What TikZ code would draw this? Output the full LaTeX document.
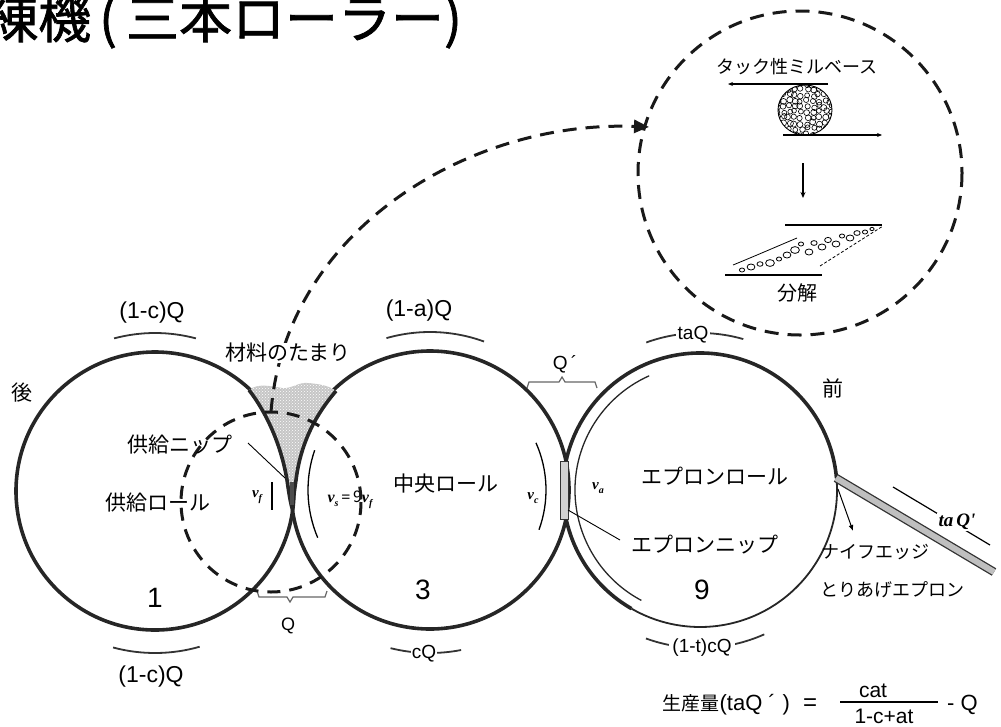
\documentclass[tikz,border=0pt]{standalone}
\usepackage{fontspec}
\setmainfont{Noto Sans CJK JP}
\newfontfamily\lat{Liberation Sans}
\newfontfamily\serif{Liberation Serif}
\newfontfamily\titlefont[FakeBold=1.3]{Noto Sans CJK JP}
\newcommand\velo[1]{{\serif\bfseries\itshape v}\raisebox{-0.22em}{\fontsize{10}{10}\selectfont\serif\bfseries\itshape #1}}
\usetikzlibrary{arrows.meta,patterns}
\begin{document}
\begin{tikzpicture}[x=1pt,y=-1pt,
  roll/.style={line width=3.6pt,draw=black!85},
  flowarc/.style={line width=1.8pt,draw=black!80},
  bracketline/.style={line width=1.2pt,draw=black!60},
  jp/.style={font=\fontsize{21}{21}\selectfont,inner sep=1pt},
  jps/.style={font=\fontsize{18}{18}\selectfont,inner sep=1pt},
  qlab/.style={font=\lat\fontsize{23}{23}\selectfont,inner sep=1pt},
  qsmall/.style={font=\lat\fontsize{19}{19}\selectfont,inner sep=1pt},
  vlab/.style={font=\fontsize{15}{15}\selectfont,inner sep=0.5pt},
  rollno/.style={font=\lat\fontsize{28}{28}\selectfont,inner sep=0pt},
  bigdash/.style={line width=3pt,dash pattern=on 14pt off 9pt,draw=black!90},
]
\useasboundingbox (0,0) rectangle (1001,726);
\clip (0,0) rectangle (1001,726);

% roll centres
\coordinate (R1) at (155,491);
\coordinate (R3) at (430,490);
\coordinate (R9) at (700,490);

% title
\node[anchor=base west,inner sep=0,font=\titlefont\fontsize{53}{53}\selectfont] (title) at (-15,38)
  {練機\hspace{8pt}(\hspace{9pt}三本ローラー)};

% rolls
\draw[roll] (R1) circle[radius=139];
\draw[roll] (R3) circle[radius=139];
\draw[roll] ([shift={(120:137)}]R9) arc[start angle=120,end angle=355,radius=137];
\draw[line width=1.8pt,draw=black!85] ([shift={(-5:137)}]R9) arc[start angle=-5,end angle=120,radius=137];

% pool of material drawn into the feed nip
\fill[gray!45,postaction={pattern=crosshatch dots,pattern color=white}]
  (249,390) .. controls (258,383) and (270,386) .. (282,388)
  .. controls (292,389) and (298,382) .. (308,383)
  .. controls (320,384) and (330,386) .. (336,391)
  .. controls (318,412) and (301,440) .. (296,480)
  .. controls (294,494) and (293,500) .. (292,508)
  .. controls (290,500) and (289,494) .. (287,480)
  .. controls (281,444) and (266,412) .. (249,390) -- cycle;
\draw[roll] (336,391) .. controls (318,412) and (301,440) .. (296,480)
  .. controls (294,494) and (293,500) .. (292,508);
\draw[roll] (249,390) .. controls (266,412) and (281,444) .. (287,480)
  .. controls (289,494) and (290,500) .. (292,508);
\fill[black!70] (289.5,482) rectangle (293.5,505);

% apron layer on the apron roll
\draw[line width=1.3pt,draw=black!85] ([shift={(118:125)}]R9) arc[start angle=118,end angle=246,radius=125];

% apron nip
\node[draw=black!80,line width=0.8pt,fill=gray!35,minimum width=8pt,minimum height=58pt,inner sep=0] (anip) at (564,490) {};

% velocity marks at the nips
\draw[line width=1.4pt] (272,482) -- (272,510);
\draw[line width=1.3pt] ([shift={(157:122)}]R3) arc[start angle=157,end angle=199,radius=122];
\draw[line width=1.3pt] ([shift={(-24:116)}]R3) arc[start angle=-24,end angle=20,radius=116];
\node[vlab] (vf) at (257,497) {\velo{f}};
\node[vlab,font=\fontsize{16}{16}\selectfont] (vs) at (350,500) {\velo{s}\,{\serif\bfseries =}\,9\velo{f}};
\node[vlab] (vc) at (533,498) {\velo{c}};
\node[vlab] (va) at (598,488) {\velo{a}};

% flow arcs with quantities
\draw[flowarc] ([shift={(255:158)}]R1) arc[start angle=255,end angle=285,radius=158];
\draw[flowarc] ([shift={(74:162)}]R1) arc[start angle=74,end angle=105,radius=162];
\draw[flowarc] ([shift={(254:158)}]R3) arc[start angle=254,end angle=290,radius=158];
\draw[flowarc] ([shift={(79:163)}]R3) arc[start angle=79,end angle=104,radius=163];
\draw[flowarc] ([shift={(250:157)}]R9) arc[start angle=250,end angle=286,radius=157];
\draw[flowarc] ([shift={(66:158)}]R9) arc[start angle=66,end angle=110,radius=158];

\node[qlab] (q1top) at (152,313) {(1-c)Q};
\node[qlab] (q1bot) at (151,677) {(1-c)Q};
\node[qlab] (q3top) at (419,311) {(1-a)Q};
\node[qsmall,fill=white] (q3bot) at (424,654) {cQ};
\node[qsmall,fill=white,inner sep=2pt] (q9top) at (693,335) {taQ};
\node[qsmall,fill=white,inner sep=3pt] (q9bot) at (702,648) {(1-t)cQ};

% brackets at the nips
\draw[bracketline] (257,591) -- (259,597) -- (287,597) -- (290,602) -- (293,597) -- (325,597) -- (327,591);
\node[font=\lat\fontsize{18}{18}\selectfont,inner sep=0] (qfeed) at (288,626) {Q};
\draw[bracketline] (527,388) -- (529,382) -- (559,382) -- (562,377) -- (565,382) -- (595,382) -- (597,388);
\node[font=\lat\fontsize{19}{19}\selectfont,inner sep=0] (qprime) at (565,364) {Q\,´};

% take-off apron and knife edge
\coordinate (knife) at (836,478);
\coordinate (apronEnd) at (994,572);
\draw[draw=black!80,line width=1.3pt,double=gray!50,double distance=6pt] (knife) -- (apronEnd);
\coordinate (knifeTip) at (853,531);
\draw[line width=1pt,-{Latex[length=6pt,width=5pt]}] (838,489) -- (knifeTip);
\coordinate (outA) at (893,487);
\coordinate (outB) at (990,545);
\draw[line width=1.2pt] (outA) -- (outB);
\node[fill=white,inner sep=1.5pt,font=\serif\bfseries\itshape\fontsize{19}{19}\selectfont] (taq) at (957,522) {ta\,Q'};

% magnification: small dashed circle and arrow to the detail
\draw[bigdash,dash pattern=on 13pt off 9pt] (271,502) circle[radius=90];
\coordinate (poolTop) at (271,412);
\coordinate (detailIn) at (649,127);
\draw[bigdash,-{Triangle[length=15pt,width=13pt]}] (poolTop) .. controls (285,230) and (470,120) .. (detailIn);
\draw[bigdash] (800,173) circle[radius=162];

% detail: tacky mill base breaking up
\node[jps] (tack) at (797,67) {タック性ミルベース};
\draw[line width=1.1pt,-{Stealth[length=5pt,width=4pt]}] (828,84) -- (728,84);
\pgfmathsetseed{7}
\begin{scope}
  \clip (805,110) ellipse[x radius=27,y radius=25];
  \foreach \i in {0,...,9}{
    \foreach \j in {0,...,9}{
      \pgfmathsetmacro\px{777+\i*6+1.6*rand}
      \pgfmathsetmacro\py{84+\j*5.6+1.6*rand}
      \pgfmathsetmacro\pr{2.4+0.7*rnd}
      \draw[line width=0.6pt] (\px,\py) circle[radius=\pr];
    }
  }
\end{scope}
\draw[line width=0.9pt] (805,110) ellipse[x radius=27,y radius=25];
\draw[line width=1.1pt,-{Stealth[length=5pt,width=4pt]}] (783,135) -- (882,135);
\draw[line width=1.1pt,-{Stealth[length=6pt,width=5pt]}] (803,163) -- (803,198);
\draw[line width=1.1pt] (785,225) -- (882,225);
\draw[line width=1.1pt] (725,275) -- (822,275);
\draw[line width=0.8pt] (733,265) .. controls (755,256) and (778,246) .. (797,238);
\draw[line width=0.8pt,dash pattern=on 3pt off 2pt] (820,266) -- (883,226);
\foreach \x/\y/\r in {742/270/2,751/267/3,760/264/2.3,770/263/3.4,779/259/2,787/255/3,795/250/3.4,
  801/244/2,809/252/3,814/243/2.4,822/247/3,828/240/2.6,836/244/3,842/236/2,850/238/3,
  857/233/2.4,865/232/2,872/229/1.6}{
  \draw[line width=0.8pt] (\x,\y) ellipse[x radius=1.3*\r,y radius=\r];
}
\node[font=\fontsize{20}{20}\selectfont,inner sep=1pt] (bunkai) at (797,293) {分解};

% labels
\node[jp] (back) at (22,393) {後};
\node[jp] (front) at (833,388) {前};
\node[jp,fill=white,inner sep=0.5pt] (pool) at (288,353) {材料のたまり};
\node[jp] (feednip) at (180,445) {供給ニップ};
\coordinate (feednipPt) at (285,478);
\draw[line width=0.9pt] (248,443) -- (feednipPt);
\node[jp] (feedroll) at (158,503) {供給ロール};
\node[jp] (centreroll) at (446,484) {中央ロール};
\node[jp] (apronroll) at (715,476) {エプロンロール};
\node[jp] (apronnip) at (705,545) {エプロンニップ};
\coordinate (apronnipPt) at (568,510);
\draw[line width=0.9pt] (620,540) -- (apronnipPt);
\node[jps] (knifelbl) at (875,552) {ナイフエッジ};
\node[jps] (takeoff) at (892,590) {とりあげエプロン};
\node[rollno] (n1) at (155,598) {1};
\node[rollno] (n3) at (423,590) {3};
\node[rollno] (n9) at (702,590) {9};

% production formula
\node[anchor=base west,inner sep=0,font=\fontsize{19}{19}\selectfont] (prod) at (662,710) {生産量};
\node[anchor=base west,inner sep=0,font=\lat\fontsize{22}{22}\selectfont] (prodq) at (prod.base east)
  {(taQ\hspace{6pt}´\hspace{7pt})};
\node[anchor=base,inner sep=0,font=\lat\fontsize{24}{24}\selectfont] (eq) at (810,710) {=};
\coordinate (barL) at (840,702);
\coordinate (barR) at (938,702);
\draw[line width=1.2pt] (barL) -- (barR);
\node[anchor=base,inner sep=0,font=\lat\fontsize{21}{21}\selectfont] (numer) at (873,697) {cat};
\node[anchor=base,inner sep=0,font=\lat\fontsize{21}{21}\selectfont] (denom) at (884,723) {1-c+at};
\node[anchor=base west,inner sep=0,font=\lat\fontsize{22}{22}\selectfont] (minusq) at (947,710) {- Q};
\end{tikzpicture}
\end{document}
